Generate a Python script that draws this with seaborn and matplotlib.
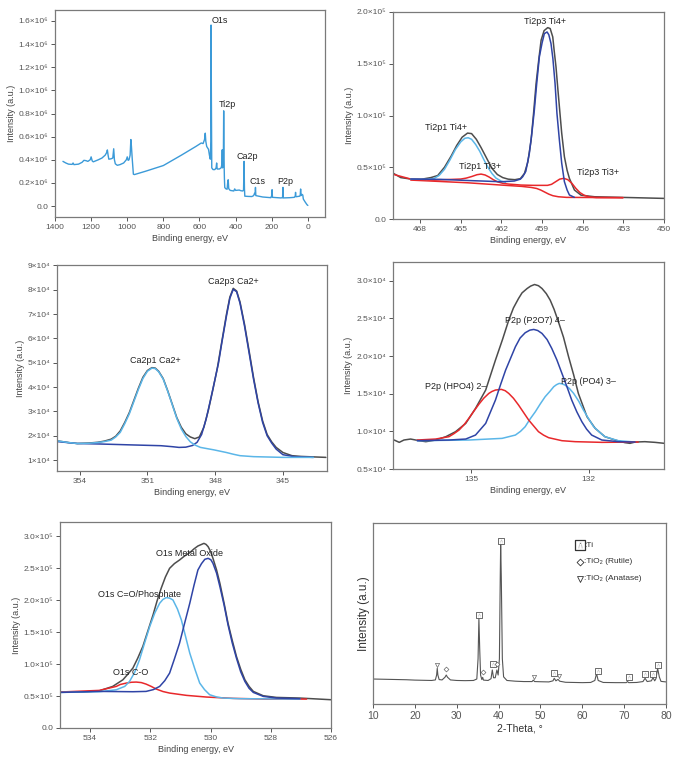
import matplotlib
matplotlib.use("Agg")
import matplotlib.pyplot as plt
import seaborn as sns
from matplotlib.ticker import FuncFormatter

# ---------------- data ----------------
# survey spectrum (eV, intensity x1e6)
survey_x = [1356, 1340, 1325, 1305, 1300, 1295, 1270, 1250, 1240, 1228, 1218, 1205, 1200, 1194, 1188,
            1160, 1140, 1122, 1114, 1110, 1106, 1102, 1090, 1080, 1075, 1071, 1066, 1055, 1040, 1020,
            1005, 1000, 995, 990, 984, 980, 977, 972, 966, 960, 900, 800, 700, 620, 590, 580, 572, 568,
            565, 560, 550, 545, 540, 537, 536, 534, 532, 525, 515, 508, 505, 502, 490, 480, 476, 474,
            472, 468, 466, 464, 462, 460, 455, 447, 444, 441, 438, 430, 410, 405, 400, 380, 370, 360,
            356, 353, 351, 349, 330, 310, 300, 295, 292, 290, 288, 250, 205, 200, 198, 196, 150, 140,
            138, 136, 100, 75, 70, 68, 66, 45, 42, 40, 38, 35, 32, 28, 25, 15, 5, 0]
survey_y = [0.386, 0.372, 0.362, 0.360, 0.372, 0.358, 0.362, 0.378, 0.395, 0.392, 0.386, 0.400, 0.425,
            0.390, 0.382, 0.400, 0.415, 0.440, 0.462, 0.485, 0.440, 0.405, 0.408, 0.415, 0.495, 0.400,
            0.365, 0.352, 0.358, 0.372, 0.400, 0.425, 0.395, 0.400, 0.440, 0.575, 0.520, 0.400, 0.275,
            0.272, 0.300, 0.350, 0.440, 0.515, 0.545, 0.540, 0.575, 0.630, 0.560, 0.515, 0.490, 0.440,
            0.405, 0.560, 1.565, 0.900, 0.330, 0.315, 0.315, 0.330, 0.372, 0.320, 0.320, 0.330, 0.360,
            0.486, 0.330, 0.340, 0.823, 0.400, 0.240, 0.160, 0.150, 0.145, 0.200, 0.227, 0.150, 0.135,
            0.130, 0.148, 0.135, 0.138, 0.132, 0.130, 0.140, 0.386, 0.150, 0.085, 0.083, 0.082, 0.090,
            0.110, 0.100, 0.161, 0.090, 0.078, 0.072, 0.090, 0.141, 0.075, 0.070, 0.072, 0.161, 0.070,
            0.072, 0.075, 0.085, 0.118, 0.080, 0.085, 0.095, 0.147, 0.090, 0.100, 0.100, 0.095, 0.060,
            0.035, 0.012, 0.005]
survey_labels = ["O1s", "Ti2p", "Ca2p", "C1s", "P2p"]
survey_label_x = [535, 446, 336, 281, 125]
survey_label_y = [1.60, 0.88, 0.43, 0.213, 0.213]

# Ti2p (eV, intensity x1e5)
ti_env_x = [470.05, 469.43, 468.69, 467.95, 467.21, 466.7, 466.2, 465.7, 465.3, 464.9, 464.5, 464.2,
            463.85, 463.5, 463.1, 462.7, 462.3, 461.9, 461.5, 461.0, 460.6, 460.3, 460.05, 459.81,
            459.62, 459.44, 459.25, 459.07, 458.85, 458.58, 458.4, 458.21, 458.1, 457.97, 457.85,
            457.72, 457.55, 457.35, 457.15, 456.98, 456.61, 456.12, 455.13, 452.17, 450.00]
ti_env_y = [0.447, 0.400, 0.386, 0.383, 0.400, 0.42, 0.50, 0.61, 0.71, 0.79, 0.83, 0.825, 0.77, 0.69,
            0.59, 0.49, 0.43, 0.40, 0.385, 0.38, 0.39, 0.44, 0.55, 0.76, 1.03, 1.309, 1.53, 1.727,
            1.82, 1.849, 1.84, 1.759, 1.62, 1.469, 1.28, 1.084, 0.83, 0.601, 0.47, 0.392, 0.280,
            0.230, 0.215, 0.206, 0.199]
ti_p1_x = [468.69, 467.5, 467.0, 466.6, 466.2, 465.8, 465.4, 465.0, 464.7, 464.45, 464.2, 463.9,
           463.6, 463.3, 463.0, 462.7, 462.4, 462.0, 461.7]
ti_p1_y = [0.386, 0.383, 0.39, 0.42, 0.48, 0.57, 0.67, 0.745, 0.78, 0.785, 0.77, 0.72, 0.655, 0.575,
           0.50, 0.44, 0.395, 0.365, 0.355]
ti_p3_x = [468.69, 466.47, 464.50, 463.02, 462.03, 461.05, 460.6, 460.43, 460.2, 459.94, 459.75,
           459.57, 459.4, 459.20, 459.0, 458.83, 458.63, 458.5, 458.34, 458.2, 458.04, 457.9, 457.72,
           457.55, 457.35, 457.15, 456.98, 456.61]
ti_p3_y = [0.386, 0.383, 0.372, 0.365, 0.360, 0.367, 0.385, 0.408, 0.46, 0.633, 0.83, 1.051, 1.30,
           1.566, 1.70, 1.791, 1.807, 1.78, 1.695, 1.55, 1.309, 1.02, 0.762, 0.54, 0.360, 0.28,
           0.232, 0.209]
ti_red1_x = [470.05, 468.69, 466.96, 465.0, 464.6, 464.2, 463.8, 463.5, 463.2, 462.9, 462.6, 462.3,
             461.9, 461.5, 460.55, 459.57, 458.6, 458.3, 458.0, 457.7, 457.4, 457.1, 456.8, 456.5,
             456.2, 455.9, 455.5, 455.0, 453.03]
ti_red1_y = [0.434, 0.386, 0.376, 0.386, 0.395, 0.41, 0.428, 0.434, 0.425, 0.405, 0.38, 0.36, 0.345,
             0.338, 0.328, 0.325, 0.325, 0.335, 0.36, 0.385, 0.393, 0.38, 0.345, 0.295, 0.255, 0.23,
             0.213, 0.207, 0.206]
ti_red2_x = [468.69, 464.50, 462.03, 460.5, 459.8, 459.4, 459.1, 458.8, 458.5, 458.2, 457.8, 457.2,
             453.03]
ti_red2_y = [0.376, 0.350, 0.328, 0.315, 0.305, 0.295, 0.28, 0.26, 0.24, 0.225, 0.215, 0.209, 0.206]
ti_labels = ["Ti2p3 Ti4+", "Ti2p1 Ti4+", "Ti2p1 Ti3+", "Ti2p3 Ti3+"]
ti_label_x = [458.8, 466.1, 463.6, 454.9]
ti_label_y = [1.913, 0.88, 0.505, 0.447]

# Ca2p (eV, intensity x1e4)
ca_env_x = [354.99, 354.5, 354.1, 353.6, 353.2, 352.9, 352.6, 352.4, 352.2, 352.0, 351.8, 351.6,
            351.4, 351.2, 351.0, 350.8, 350.65, 350.5, 350.3, 350.1, 349.9, 349.7, 349.5, 349.3,
            349.1, 348.9, 348.7, 348.5, 348.3, 348.1, 347.9, 347.7, 347.5, 347.35, 347.2, 347.05,
            346.9, 346.7, 346.5, 346.3, 346.1, 345.9, 345.7, 345.5, 345.3, 345.0, 344.6, 344.2, 343.1]
ca_env_y = [1.79, 1.72, 1.68, 1.70, 1.73, 1.78, 1.86, 1.98, 2.20, 2.55, 2.95, 3.45, 3.95, 4.40, 4.68,
            4.80, 4.78, 4.65, 4.35, 3.85, 3.30, 2.75, 2.35, 2.08, 1.95, 1.88, 1.95, 2.35, 3.05, 3.90,
            4.80, 5.90, 6.99, 7.70, 8.06, 7.95, 7.50, 6.58, 5.50, 4.39, 3.40, 2.61, 2.05, 1.75, 1.52,
            1.31, 1.18, 1.15, 1.11]
ca_p1_x = [354.99, 354.5, 354.1, 353.6, 353.2, 352.9, 352.6, 352.4, 352.2, 352.0, 351.8, 351.6,
           351.4, 351.2, 351.0, 350.8, 350.65, 350.5, 350.3, 350.1, 349.9, 349.7, 349.5, 349.3,
           349.1, 348.9, 348.65, 348.3, 348.06, 347.5, 347.2, 346.9, 346.3, 345.0, 343.65]
ca_p1_y = [1.79, 1.72, 1.68, 1.69, 1.72, 1.76, 1.82, 1.95, 2.14, 2.50, 2.90, 3.40, 3.90, 4.35, 4.65,
           4.78, 4.76, 4.63, 4.33, 3.83, 3.28, 2.72, 2.28, 1.97, 1.75, 1.62, 1.52, 1.46, 1.42, 1.31,
           1.24, 1.18, 1.14, 1.11, 1.11]
ca_p3_x = [354.99, 354.1, 353.1, 351.6, 350.4, 349.9, 349.6, 349.3, 349.0, 348.8, 348.6, 348.4,
           348.2, 348.0, 347.85, 347.7, 347.5, 347.35, 347.2, 347.05, 346.9, 346.7, 346.5, 346.3,
           346.1, 345.9, 345.7, 345.5, 345.3, 345.0, 344.5, 343.65]
ca_p3_y = [1.76, 1.68, 1.66, 1.62, 1.59, 1.55, 1.52, 1.53, 1.60, 1.73, 2.05, 2.68, 3.50, 4.35, 5.00,
           5.85, 6.92, 7.65, 8.02, 7.92, 7.45, 6.51, 5.42, 4.32, 3.35, 2.55, 2.00, 1.70, 1.45, 1.22,
           1.14, 1.11]
ca_labels = ["Ca2p3 Ca2+", "Ca2p1 Ca2+"]
ca_label_x = [347.2, 350.64]
ca_label_y = [8.33, 5.10]

# P2p (eV, intensity x1e4)
p_env_x = [136.97, 136.84, 136.72, 136.55, 136.33, 136.16, 135.91, 135.65, 135.40, 135.14, 134.89,
           134.63, 134.38, 134.2, 134.04, 133.92, 133.79, 133.7, 133.57, 133.48, 133.38, 133.28,
           133.19, 133.08, 132.98, 132.88, 132.77, 132.64, 132.51, 132.38, 132.26, 132.04, 131.83,
           131.58, 131.32, 131.07, 130.94, 130.81, 130.56, 130.30, 130.06]
p_env_y = [0.885, 0.854, 0.885, 0.898, 0.876, 0.863, 0.885, 0.929, 0.996, 1.106, 1.305, 1.549, 1.947,
           2.22, 2.478, 2.64, 2.765, 2.84, 2.898, 2.93, 2.951, 2.935, 2.898, 2.83, 2.743, 2.62, 2.456,
           2.25, 1.991, 1.75, 1.504, 1.195, 1.040, 0.929, 0.885, 0.850, 0.841, 0.858, 0.863, 0.854,
           0.841]
p_hpo4_x = [136.38, 135.91, 135.57, 135.44, 135.31, 135.18, 135.06, 134.93, 134.80, 134.68, 134.55,
            134.47, 134.38, 134.23, 134.13, 134.04, 133.92, 133.79, 133.66, 133.53, 133.4, 133.28,
            133.15, 133.02, 132.68, 132.34, 131.66, 130.73]
p_hpo4_y = [0.885, 0.898, 0.929, 0.97, 1.018, 1.09, 1.173, 1.27, 1.363, 1.44, 1.504, 1.53, 1.549,
            1.558, 1.54, 1.504, 1.44, 1.350, 1.25, 1.150, 1.07, 0.996, 0.95, 0.916, 0.876, 0.863,
            0.854, 0.858]
p_p2o7_x = [136.38, 135.57, 135.14, 134.89, 134.63, 134.38, 134.25, 134.12, 133.87, 133.75, 133.62,
            133.5, 133.40, 133.3, 133.19, 133.06, 132.94, 132.81, 132.68, 132.55, 132.43, 132.3,
            132.17, 132.05, 131.92, 131.66, 131.24, 130.81]
p_p2o7_y = [0.876, 0.885, 0.898, 0.951, 1.106, 1.416, 1.62, 1.814, 2.124, 2.24, 2.310, 2.345, 2.354,
            2.34, 2.301, 2.22, 2.102, 1.95, 1.770, 1.59, 1.416, 1.26, 1.128, 1.03, 0.951, 0.885,
            0.863, 0.858]
p_po4_x = [136.38, 135.06, 134.21, 133.87, 133.74, 133.62, 133.5, 133.36, 133.24, 133.11, 132.99,
           132.89, 132.82, 132.75, 132.68, 132.60, 132.49, 132.38, 132.25, 132.13, 132.0, 131.87,
           131.72, 131.58, 131.24, 130.81]
p_po4_y = [0.876, 0.885, 0.907, 0.951, 1.00, 1.062, 1.16, 1.261, 1.36, 1.460, 1.53, 1.593, 1.62,
           1.637, 1.632, 1.615, 1.57, 1.504, 1.40, 1.283, 1.17, 1.062, 0.99, 0.929, 0.876, 0.858]
p_labels = ["P2p (P2O7) 4\u2013", "P2p (HPO4) 2\u2013", "P2p (PO4) 3\u2013"]
p_label_x = [133.36, 135.4, 132.0]
p_label_y = [2.478, 1.60, 1.668]

# O1s (eV, intensity x1e5)
o_env_x = [535.02, 534.24, 533.69, 533.25, 532.91, 532.75, 532.58, 532.42, 532.25, 532.08, 531.91,
           531.78, 531.64, 531.5, 531.36, 531.2, 531.03, 530.86, 530.69, 530.55, 530.42, 530.22,
           530.15, 530.08, 530.0, 529.92, 529.8, 529.69, 529.55, 529.42, 529.28, 529.14, 529.0,
           528.86, 528.72, 528.58, 528.25, 527.81, 527.03, 526.00]
o_env_y = [0.562, 0.562, 0.582, 0.650, 0.754, 0.84, 0.936, 1.09, 1.274, 1.52, 1.768, 1.98, 2.184,
           2.36, 2.496, 2.57, 2.626, 2.69, 2.741, 2.80, 2.845, 2.886, 2.87, 2.834, 2.76, 2.652, 2.47,
           2.262, 1.95, 1.638, 1.37, 1.118, 0.92, 0.754, 0.65, 0.572, 0.504, 0.478, 0.468, 0.442]
o_mo_x = [535.02, 533.69, 532.58, 532.14, 531.9, 531.69, 531.52, 531.36, 531.2, 531.03, 530.86,
          530.69, 530.55, 530.42, 530.3, 530.19, 530.08, 529.99, 529.92, 529.8, 529.69, 529.55,
          529.42, 529.28, 529.14, 529.0, 528.86, 528.72, 528.58, 528.25, 527.81, 527.03]
o_mo_y = [0.556, 0.572, 0.567, 0.572, 0.60, 0.650, 0.74, 0.858, 1.08, 1.326, 1.64, 1.950, 2.23,
          2.470, 2.57, 2.637, 2.652, 2.63, 2.574, 2.42, 2.210, 1.92, 1.612, 1.33, 1.092, 0.88, 0.728,
          0.62, 0.556, 0.494, 0.468, 0.458]
o_ph_x = [535.02, 533.69, 533.13, 532.85, 532.69, 532.52, 532.36, 532.19, 532.02, 531.85, 531.69,
          531.58, 531.47, 531.36, 531.25, 531.1, 530.97, 530.83, 530.69, 530.52, 530.36, 530.2,
          530.03, 529.8, 529.58, 529.03, 527.03]
o_ph_y = [0.556, 0.567, 0.598, 0.65, 0.728, 0.87, 1.066, 1.33, 1.586, 1.80, 1.950, 2.01, 2.039,
          2.03, 2.002, 1.86, 1.690, 1.43, 1.170, 0.92, 0.702, 0.60, 0.520, 0.485, 0.468, 0.458, 0.452]
o_co_x = [535.02, 533.69, 533.13, 533.0, 532.80, 532.63, 532.47, 532.3, 532.14, 531.97, 531.80,
          531.58, 531.36, 530.80, 530.14, 529.25, 528.14, 526.81]
o_co_y = [0.562, 0.588, 0.650, 0.68, 0.702, 0.715, 0.718, 0.71, 0.686, 0.65, 0.608, 0.57, 0.546,
          0.510, 0.484, 0.463, 0.452, 0.452]
o_labels = ["O1s Metal Oxide", "O1s C=O/Phosphate", "O1s C-O"]
o_label_x = [530.69, 532.36, 532.67]
o_label_y = [2.72, 2.085, 0.874]

# XRD (2-theta, relative intensity)
xrd_x = [10.0, 12.0, 14.0, 16.0, 18.0, 20.0, 22.0, 24.0, 24.9, 25.2, 25.35, 25.5, 25.8, 26.5, 27.2,
         27.5, 27.8, 28.5, 30.0, 32.0, 34.0, 34.8, 35.1, 35.3, 35.5, 35.7, 36.0, 36.2, 36.4, 37.5,
         38.2, 38.5, 38.8, 39.2, 39.6, 39.9, 40.2, 40.4, 40.5, 40.65, 40.9, 41.2, 42.0, 44.0, 46.0,
         48.0, 48.3, 48.6, 50.0, 52.0, 53.0, 53.3, 53.7, 54.2, 54.6, 56.0, 58.0, 60.0, 62.0, 63.0,
         63.4, 63.8, 65.0, 68.0, 70.5, 70.8, 71.1, 73.0, 74.5, 75.0, 75.5, 76.5, 76.9, 77.3, 77.6,
         78.0, 78.4, 78.8, 80.0]
xrd_y = [13.8, 13.7, 13.6, 13.5, 13.4, 13.2, 13.1, 13.0, 13.3, 16.0, 19.7, 16.0, 13.5, 13.3, 14.8,
         16.0, 14.8, 13.3, 13.0, 12.9, 13.0, 13.8, 25.0, 47.2, 30.0, 16.0, 13.5, 14.7, 13.2, 13.0,
         14.0, 18.8, 14.5, 14.5, 18.8, 16.0, 25.0, 70.0, 89.0, 70.0, 25.0, 15.0, 13.0, 12.6, 12.4,
         12.4, 13.2, 12.4, 12.3, 12.2, 12.8, 14.2, 12.8, 13.6, 12.6, 12.0, 11.9, 11.8, 11.9, 13.0,
         16.8, 13.0, 11.9, 11.8, 11.8, 12.4, 11.8, 11.9, 12.4, 14.2, 12.4, 12.8, 14.5, 12.8, 14.0,
         19.7, 15.0, 12.5, 12.2]
ti_mark_x = [35.3, 38.7, 40.5, 53.3, 63.7, 71.2, 75.0, 77.0, 78.2]
ti_mark_y = [49.4, 21.9, 90.1, 16.9, 18.4, 14.7, 16.4, 16.4, 21.3]
rutile_mark_x = [27.5, 36.2, 39.7]
rutile_mark_y = [19.1, 17.8, 22.1]
anatase_mark_x = [25.4, 48.4, 54.4]
anatase_mark_y = [21.3, 15.1, 15.4]
legend_x = [59.4, 59.5, 59.5]
legend_y = [87.7, 78.5, 69.3]
legend_text = [":Ti", ":TiO\u2082 (Rutile)", ":TiO\u2082 (Anatase)"]

# ---------------- style ----------------
sns.set_style("ticks")
plt.rcParams["font.family"] = ["Liberation Sans", "DejaVu Sans"]
plt.rcParams["axes.edgecolor"] = "#7a7a7a"
plt.rcParams["axes.linewidth"] = 0.9
plt.rcParams["xtick.color"] = "#555555"
plt.rcParams["ytick.color"] = "#555555"
plt.rcParams["text.color"] = "#333333"

GRAY = "#4d4d4d"
DBLUE = "#2f44a6"
LBLUE = "#5bb6e8"
RED = "#e8282b"
SURVEY = "#3b9ad8"
SUP = {4: "\u2074", 5: "\u2075", 6: "\u2076"}

W, H = 675, 761
fig = plt.figure(figsize=(W / 100, H / 100), dpi=100)


def add_ax(l, t, r, b):
    return fig.add_axes([l / W, 1 - b / H, (r - l) / W, (b - t) / H])


def sci(exp, dec, zero=True):
    def f(v, pos):
        if zero and abs(v) < 1e-9:
            return "0.0"
        return f"{v:.{dec}f}\u00d710{SUP[exp]}"
    return FuncFormatter(f)


def curve(ax, xs, ys, color, lw=1.1):
    sns.lineplot(x=xs, y=ys, ax=ax, color=color, lw=lw, sort=False, estimator=None)


def finish(ax, xlabel="Binding energy, eV", fs=6):
    ax.set_xlabel(xlabel, fontsize=fs + 0.5, color="#444444", labelpad=2)
    ax.set_ylabel("Intensity (a.u.)", fontsize=fs + 0.5, color="#444444", labelpad=2)
    ax.tick_params(labelsize=fs, length=3, width=0.7, pad=2)


def labels(ax, txt, xs, ys, fs=6.5, ha="center"):
    for t, x, y in zip(txt, xs, ys):
        ax.text(x, y, t, fontsize=fs, ha=ha, va="center", color="#222222")


# panel 1: survey
ax1 = add_ax(55, 10, 325, 217)
curve(ax1, survey_x, survey_y, SURVEY, lw=1.0)
ax1.set_xlim(1400, -95)
ax1.set_ylim(-0.095, 1.695)
ax1.set_xticks(range(1400, -1, -200))
ax1.set_yticks([i * 0.2 for i in range(9)])
ax1.yaxis.set_major_formatter(sci(6, 1))
finish(ax1)
labels(ax1, survey_labels[:1], survey_label_x[:1], survey_label_y[:1], ha="left")
labels(ax1, survey_labels[1:], survey_label_x[1:], survey_label_y[1:])

# panel 2: Ti2p
ax2 = add_ax(393, 12, 664, 219)
curve(ax2, ti_env_x, ti_env_y, GRAY)
curve(ax2, ti_red2_x, ti_red2_y, RED)
curve(ax2, ti_red1_x, ti_red1_y, RED)
curve(ax2, ti_p1_x, ti_p1_y, LBLUE)
curve(ax2, ti_p3_x, ti_p3_y, DBLUE)
ax2.set_xlim(470, 450)
ax2.set_ylim(0, 2.0)
ax2.set_xticks(range(468, 449, -3))
ax2.set_yticks([0, 0.5, 1.0, 1.5, 2.0])
ax2.yaxis.set_major_formatter(sci(5, 1))
finish(ax2)
labels(ax2, ti_labels, ti_label_x, ti_label_y)

# panel 3: Ca2p
ax3 = add_ax(57, 265, 327, 471)
curve(ax3, ca_env_x, ca_env_y, GRAY)
curve(ax3, ca_p3_x, ca_p3_y, DBLUE)
curve(ax3, ca_p1_x, ca_p1_y, LBLUE)
ax3.set_xlim(355, 343.05)
ax3.set_ylim(0.55, 9.02)
ax3.set_xticks([354, 351, 348, 345])
ax3.set_yticks(range(1, 10))
ax3.yaxis.set_major_formatter(sci(4, 0, zero=False))
finish(ax3)
labels(ax3, ca_labels, ca_label_x, ca_label_y)

# panel 4: P2p
ax4 = add_ax(393, 262, 664, 469)
curve(ax4, p_env_x, p_env_y, GRAY)
curve(ax4, p_po4_x, p_po4_y, LBLUE)
curve(ax4, p_hpo4_x, p_hpo4_y, RED)
curve(ax4, p_p2o7_x, p_p2o7_y, DBLUE)
ax4.set_xlim(137, 130.07)
ax4.set_ylim(0.5, 3.25)
ax4.set_xticks([135, 132])
ax4.set_yticks([0.5, 1.0, 1.5, 2.0, 2.5, 3.0])
ax4.yaxis.set_major_formatter(sci(4, 1, zero=False))
finish(ax4)
labels(ax4, p_labels, p_label_x, p_label_y)

# panel 5: O1s
ax5 = add_ax(60, 522, 331, 728)
curve(ax5, o_env_x, o_env_y, GRAY)
curve(ax5, o_co_x, o_co_y, RED)
curve(ax5, o_ph_x, o_ph_y, LBLUE)
curve(ax5, o_mo_x, o_mo_y, DBLUE)
ax5.set_xlim(535, 526)
ax5.set_ylim(0, 3.22)
ax5.set_xticks(range(534, 525, -2))
ax5.set_yticks([0, 0.5, 1.0, 1.5, 2.0, 2.5, 3.0])
ax5.yaxis.set_major_formatter(sci(5, 1))
finish(ax5)
labels(ax5, o_labels, o_label_x, o_label_y)

# panel 6: XRD
ax6 = add_ax(373, 523, 666, 704)
curve(ax6, xrd_x, xrd_y, "#555555", lw=0.8)
sns.scatterplot(x=ti_mark_x, y=ti_mark_y, ax=ax6, marker="s", s=16, facecolor="white",
                edgecolor="#555555", linewidth=0.6, zorder=5)
sns.scatterplot(x=ti_mark_x, y=ti_mark_y, ax=ax6, marker=r"$\wedge$", s=6, color="#555555",
                linewidth=0.3, zorder=6)
sns.scatterplot(x=rutile_mark_x, y=rutile_mark_y, ax=ax6, marker="D", s=6, facecolor="white",
                edgecolor="#666666", linewidth=0.5, zorder=5)
sns.scatterplot(x=anatase_mark_x, y=anatase_mark_y, ax=ax6, marker="v", s=9, facecolor="white",
                edgecolor="#666666", linewidth=0.5, zorder=5)
# legend
sns.scatterplot(x=legend_x[:1], y=legend_y[:1], ax=ax6, marker="s", s=45, facecolor="white",
                edgecolor="#333333", linewidth=0.9, zorder=5)
sns.scatterplot(x=legend_x[:1], y=legend_y[:1], ax=ax6, marker=r"$\wedge$", s=18, color="#333333",
                linewidth=0.5, zorder=6)
sns.scatterplot(x=legend_x[1:2], y=legend_y[1:2], ax=ax6, marker="D", s=12, facecolor="white",
                edgecolor="#333333", linewidth=0.6, zorder=5)
sns.scatterplot(x=legend_x[2:], y=legend_y[2:], ax=ax6, marker="v", s=18, facecolor="white",
                edgecolor="#333333", linewidth=0.6, zorder=5)
for t, x, y in zip(legend_text, legend_x, legend_y):
    ax6.text(x + 1.0, y, t, fontsize=6, ha="left", va="center", color="#333333")
ax6.set_xlim(10, 80)
ax6.set_ylim(0, 100)
ax6.set_xticks(range(10, 81, 10))
ax6.set_yticks([])
ax6.set_xlabel("2-Theta, \u00b0", fontsize=7.5, color="#333333", labelpad=2)
ax6.set_ylabel("Intensity (a.u.)", fontsize=8.5, color="#333333", labelpad=2)
ax6.tick_params(labelsize=7.5, length=3, width=0.7, pad=2)

fig.savefig("out.png", dpi=100)
